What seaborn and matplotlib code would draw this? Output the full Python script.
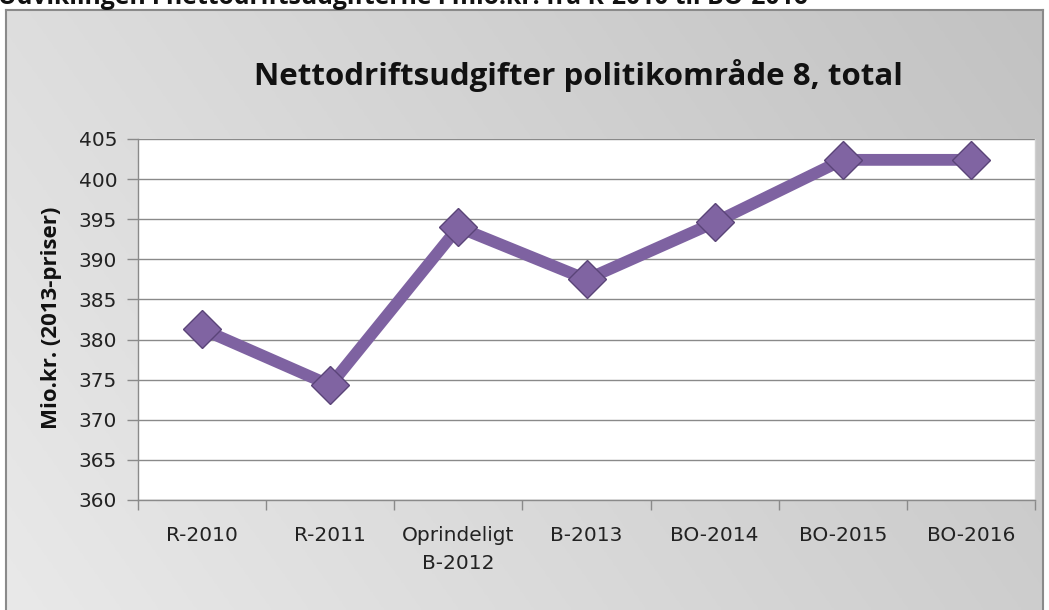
import numpy as np
import pandas as pd
import matplotlib
matplotlib.use("Agg")
import matplotlib.pyplot as plt
import seaborn as sns

categories = ["R-2010", "R-2011", "Oprindeligt\nB-2012", "B-2013", "BO-2014", "BO-2015", "BO-2016"]
values = [381.3, 374.3, 394.0, 387.5, 394.6, 402.4, 402.4]
y_ticks = [360, 365, 370, 375, 380, 385, 390, 395, 400, 405]

title = "Nettodriftsudgifter politikområde 8, total"
top_text = "Udviklingen i nettodriftsudgifterne i mio.kr. fra R-2010 til BO-2016"
y_label = "Mio.kr. (2013-priser)"

sns.set_theme(style="white")
plt.rcParams['font.family'] = ['Open Sans', 'DejaVu Sans']

W, H = 1049, 610
fig = plt.figure(figsize=(W / 100, H / 100), dpi=100)
fig.patch.set_facecolor("white")

# gradient chart area background
bg = fig.add_axes([6 / W, 0, (1043 - 6) / W, (H - 10) / H], zorder=0)
xx, yy = np.meshgrid(np.linspace(0, 1, 200), np.linspace(0, 1, 200))
grad = 0.6 * xx + 0.25 * (1 - yy)
col_light = np.array([233, 233, 233]) / 255
col_dark = np.array([194, 194, 194]) / 255
img = col_light[None, None, :] + (col_dark - col_light)[None, None, :] * (grad / grad.max())[:, :, None]
bg.imshow(img, aspect="auto", extent=[0, 1, 0, 1], origin="upper")
bg.set_xlim(0, 1)
bg.set_ylim(0, 1)
bg.set_xticks([])
bg.set_yticks([])
for s in ["left", "top", "right"]:
    bg.spines[s].set_color("#8a8a8a")
    bg.spines[s].set_linewidth(1.5)
bg.spines["bottom"].set_visible(False)

ax = fig.add_axes([138 / W, (H - 500) / H, (1035 - 138) / W, (500 - 139) / H], zorder=1)
ax.set_facecolor("white")

df = pd.DataFrame({"kategori": categories, "vaerdi": values})
sns.lineplot(data=df, x="kategori", y="vaerdi", sort=False, ax=ax,
             color="#7E62A1", linewidth=8.5, marker="D", markersize=19,
             markerfacecolor="#8064A2", markeredgecolor="#5A4478", markeredgewidth=1.0,
             zorder=3)

tick_font = {"family": ["DejaVu Sans"], "size": 14.5}
ax.set_xlim(-0.5, len(categories) - 0.5)
ax.set_ylim(360, 405)
ax.set_yticks(y_ticks)
ax.set_yticklabels([str(t) for t in y_ticks], fontdict=tick_font, color="#222222")
ax.set_xticks(range(len(categories)))
ax.set_xticklabels(categories, fontdict=tick_font, color="#222222", linespacing=1.55)
ax.set_xticks(np.arange(-0.5, len(categories), 1), minor=True)
ax.tick_params(axis="x", which="major", length=0, pad=19)
ax.tick_params(axis="x", which="minor", length=7, width=1, color="#8a8a8a", direction="out", bottom=True)
ax.tick_params(axis="y", which="major", length=8, width=1, color="#8a8a8a", direction="out", left=True, pad=7)

ax.yaxis.grid(True, color="#8a8a8a", linewidth=1)
ax.set_axisbelow(True)
ax.set_xlabel("")
ax.set_ylabel("")
ax.spines["top"].set_visible(False)
for s in ["left", "bottom"]:
    ax.spines[s].set_color("#8a8a8a")
    ax.spines[s].set_linewidth(1)
ax.spines["right"].set_color("#d0d0d0")
ax.spines["right"].set_linewidth(1)

fig.text(52 / W, (H - 318) / H, y_label, rotation=90, ha="center", va="center",
         fontsize=16, fontweight="bold", color="#111111")
fig.text(578 / W, (H - 75) / H, title, ha="center", va="center", fontsize=22.5, fontweight="bold", color="#111111")
fig.text(-2 / W, (H - 4) / H, top_text, ha="left", va="baseline", fontsize=17.8, fontweight="bold", color="#111111")

fig.savefig("out.png", dpi=100)
